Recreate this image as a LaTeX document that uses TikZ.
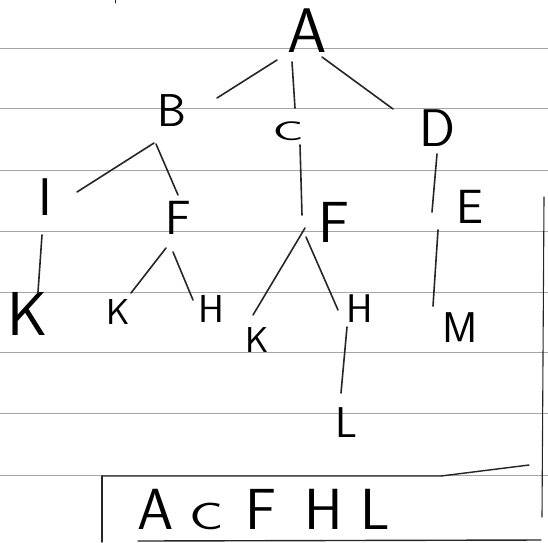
\documentclass[tikz,border=0pt]{standalone}
\usepackage{fontspec}
\usetikzlibrary{calc}
\tikzset{
  lbl/.style={font=\fontsize{#1}{#1}\selectfont\sffamily, inner sep=0pt},
  paperrule/.style={gray!70, line width=0.8pt},
  branch/.style={line width=1.6pt, line cap=round, black!85},
  ink/.style={line width=1.4pt, line cap=round, black!85}
}
\begin{document}
\begin{tikzpicture}[x=1pt,y=-1pt]
\useasboundingbox (0,0) rectangle (548,542);
% ruled paper
\foreach \yy in {48,108,170,231,292,352,413,475}
  \draw[paperrule] (0,\yy) -- (548,\yy);
\draw[ink, line width=1pt] (115,0) -- (115,3);
\draw[ink, line width=1.1pt] (544,197) -- (542,517);
% nodes
\node[lbl=63] (A) at (307,31) {A};
\node[lbl=46] (B) at (172,111) {B};
\node[lbl=27] (C) at (288,131) {\scalebox{1.9}[1]{C}};
\node[lbl=53] (D) at (437,128) {D};
\node[lbl=53] (I) at (45,197) {I};
\node[lbl=48] (Fl) at (178,218) {F};
\node[lbl=58] (Fm) at (334,222) {F};
\node[lbl=48] (E) at (470,207) {E};
\node[lbl=62] (K1) at (28,314) {K};
\node[lbl=36] (K2) at (118,312) {K};
\node[lbl=39] (H1) at (211,309) {H};
\node[lbl=36] (K3) at (257,340) {K};
\node[lbl=40] (H2) at (360,309) {H};
\node[lbl=43] (M) at (460,328) {M};
\node[lbl=43] (L) at (346,423) {L};
% connectors
\draw[branch] ($(A)+(-30,29)$) -- ($(B)+(45,-13)$);
\draw[branch] ($(A)+(-15,31)$) -- ($(C)+(7,-23)$);
\draw[branch] ($(A)+(15,26)$) -- ($(D)+(-44,-19)$);
\draw[branch] ($(B)+(-18,32)$) -- ($(I)+(32,-5)$);
\draw[branch] ($(B)+(-16,33)$) -- ($(Fl)+(0,-23)$);
\draw[branch] ($(C)+(12,14)$) -- ($(Fm)+(-32,-7)$);
\draw[branch] ($(D)+(0,26)$) -- ($(E)+(-38,5)$);
\draw[branch] ($(I)+(-3,38)$) -- ($(K1)+(10,-22)$);
\draw[branch] ($(Fl)+(-12,30)$) -- ($(K2)+(13,-19)$);
\draw[branch] ($(Fl)+(-5,34)$) -- ($(H1)+(-18,-9)$);
\draw[branch] ($(Fm)+(-29,6)$) -- ($(K3)+(-4,-25)$);
\draw[branch] ($(Fm)+(-28,15)$) -- ($(H2)+(-22,1)$);
\draw[branch] ($(E)+(-32,23)$) -- ($(M)+(-27,-22)$);
\draw[branch] ($(H2)+(-13,18)$) -- ($(L)+(-5,-30)$);
% answer box
\node[lbl=58, anchor=base west] (ans) at (137,529)
  {A\hspace{16pt}{\fontsize{38}{38}\selectfont\scalebox{1.5}[1]{C}}\hspace{22pt}F\hspace{28pt}H\hspace{17pt}L};
\coordinate (boxtl) at (102,476);
\coordinate (boxbl) at (102,542);
\coordinate (boxtm) at (441,476);
\coordinate (boxtr) at (529,465);
\coordinate (boxbs) at (138,541);
\coordinate (boxbe) at (541,540);
\draw[ink] (boxtl) -- (boxbl);
\draw[ink] (boxtl) -- (boxtm) -- (boxtr);
\draw[ink] (boxbs) -- (boxbe);
\end{tikzpicture}
\end{document}
